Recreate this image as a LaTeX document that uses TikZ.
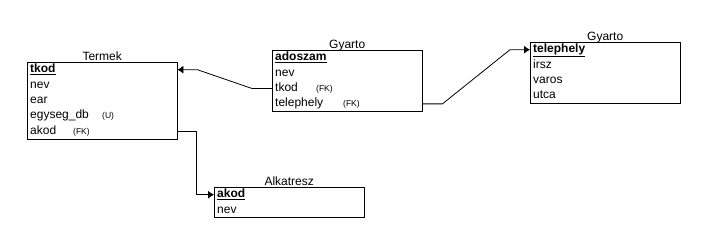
\documentclass[tikz,border=0pt]{standalone}
\usepackage{fontspec}
\setmainfont{Liberation Sans}
\usetikzlibrary{positioning,arrows.meta}

\newcommand{\pk}[1]{\underline{\textbf{#1}}}
\newcommand{\fkey}[3]{\makebox[#1][l]{#2}{\fontsize{8.5}{10}\selectfont #3}}

\tikzset{field/.style={anchor=north west,
        text width=144pt,
        inner xsep=3pt, inner ysep=1.5pt,
        text height=9pt, text depth=3pt,
        align=left,
        font=\fontsize{12}{14}\selectfont},
    frame/.style={draw, line width=0.9pt},
    tabletitle/.style={inner sep=0pt, text depth=1.5pt,
        font=\fontsize{12}{14}\selectfont},
    fk/.style={line width=0.8pt, -{Latex[length=6pt,width=8pt]}},
    }

\begin{document}
\begin{tikzpicture}[x=1pt,y=-1pt]
\useasboundingbox (0,0) rectangle (706,243);

% Termek
\node[field] (termek-tkod) at (27,62) {\pk{tkod}};
\node[field, below=0pt of termek-tkod] (termek-nev) {nev};
\node[field, below=0pt of termek-nev] (termek-ear) {ear};
\node[field, below=0pt of termek-ear] (termek-egyseg) {\fkey{72pt}{egyseg\_db}{(U)}};
\node[field, below=0pt of termek-egyseg] (termek-akod) {\fkey{43pt}{akod}{(FK)}};
\draw[frame] (termek-tkod.north west) rectangle (termek-akod.south east);
\node[tabletitle, above=0pt of termek-tkod.north] (termek) {Termek};

% Gyarto
\node[field] (gyarto-adoszam) at (272,50) {\pk{adoszam}};
\node[field, below=0pt of gyarto-adoszam] (gyarto-nev) {nev};
\node[field, below=0pt of gyarto-nev] (gyarto-tkod) {\fkey{41pt}{tkod}{(FK)}};
\node[field, below=0pt of gyarto-tkod] (gyarto-telephely) {\fkey{68pt}{telephely}{(FK)}};
\draw[frame] (gyarto-adoszam.north west) rectangle (gyarto-telephely.south east);
\node[tabletitle, above=0pt of gyarto-adoszam.north] (gyarto) {Gyarto};

% telephely tabla
\node[field] (telep-telephely) at (530,42) {\pk{telephely}};
\node[field, below=0pt of telep-telephely] (telep-irsz) {irsz};
\node[field, below=0pt of telep-irsz] (telep-varos) {varos};
\node[field, below=0pt of telep-varos] (telep-utca) {utca};
\draw[frame] (telep-telephely.north west) rectangle (telep-utca.south east);
\node[tabletitle, above=0pt of telep-telephely.north] (telep) {Gyarto};

% Alkatresz
\node[field] (alk-akod) at (214,187) {\pk{akod}};
\node[field, below=0pt of alk-akod] (alk-nev) {nev};
\draw[frame] (alk-akod.north west) rectangle (alk-nev.south east);
\node[tabletitle, above=0pt of alk-akod.north] (alk) {Alkatresz};

% kapcsolatok
\draw[fk] (gyarto-tkod.west) -- ++(-20,0) -- ([xshift=20pt]termek-tkod.east) -- (termek-tkod.east);
\draw[fk] (gyarto-telephely.east) -- ++(20,0) -- ([xshift=-20pt]telep-telephely.west) -- (telep-telephely.west);
\draw[fk] (termek-akod.east) -- ++(19,0) |- (alk-akod.west);
\end{tikzpicture}
\end{document}
